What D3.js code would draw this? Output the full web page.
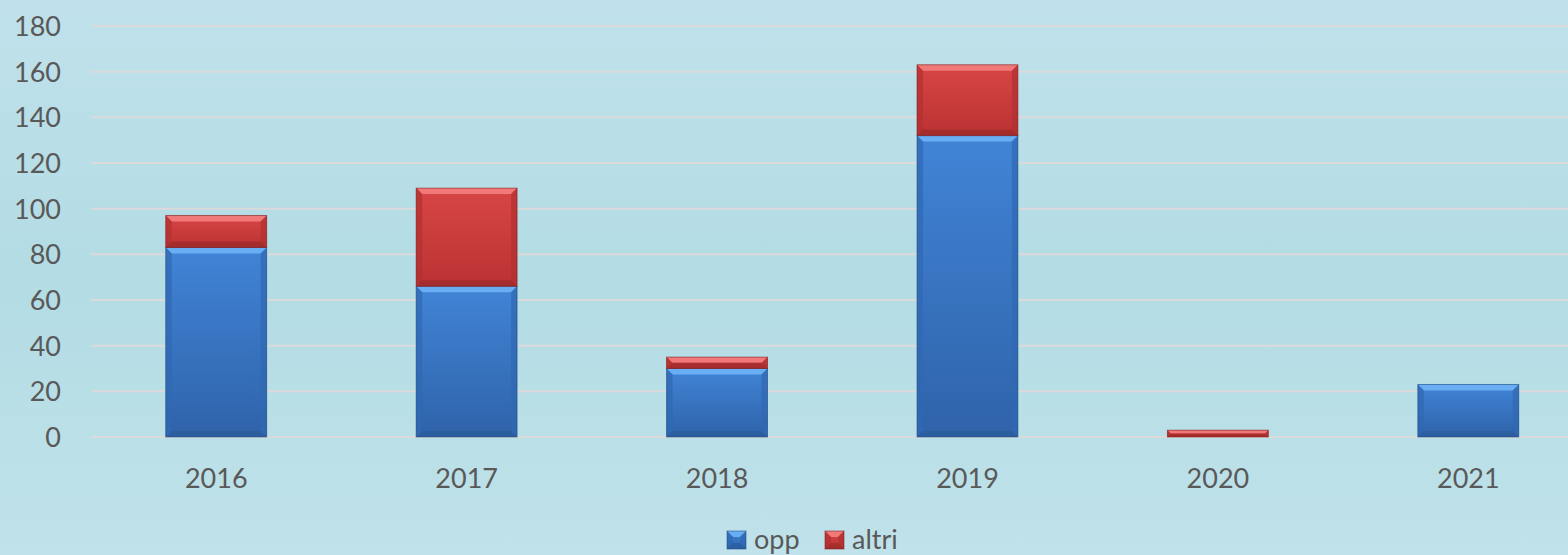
<!DOCTYPE html>
<html><head><meta charset="utf-8">
<script src="https://cdn.jsdelivr.net/npm/d3@7"></script>
<style>html,body{margin:0;padding:0;overflow:hidden;background:#b9dfe7}</style>
</head><body><svg id="c" width="1568" height="555"></svg>
<script>
const categories = ["2016","2017","2018","2019","2020","2021"];
const opp   = [83, 66, 30, 132, 0, 23];
const altri = [14, 43, 5, 31, 3, 0];
const seriesNames = ["opp","altri"];
const yTicks = [0,20,40,60,80,100,120,140,160,180];

const svg = d3.select("#c");
const W = 1568, H = 555;
const font = "Lato, 'Open Sans', sans-serif";
const defs = svg.append("defs");
const bg = defs.append("linearGradient").attr("id","bg").attr("x1",0).attr("y1",0).attr("x2",0).attr("y2",1);
bg.append("stop").attr("offset","0%").attr("stop-color","#c0e1eb");
bg.append("stop").attr("offset","50%").attr("stop-color","#b3dce4");
bg.append("stop").attr("offset","100%").attr("stop-color","#c0e2ea");
svg.append("rect").attr("width",W).attr("height",H).attr("fill","url(#bg)");

const colors = {
  opp:   {main:["#4184d6","#2f63aa"], top:"#6cb0f4", side:"#3068b2", bot:"#2a5a98", edge:"#1f4a80"},
  altri: {main:["#d84646","#bb3232"], top:"#f27c7c", side:"#b23030", bot:"#962828", edge:"#7a1f1f"}
};
Object.entries(colors).forEach(([k,c])=>{
  const g = defs.append("linearGradient").attr("id","g_"+k).attr("x1",0).attr("y1",0).attr("x2",0).attr("y2",1);
  g.append("stop").attr("offset","0%").attr("stop-color",c.main[0]);
  g.append("stop").attr("offset","100%").attr("stop-color",c.main[1]);
});

const x = d3.scaleBand().domain(categories).range([91, 1593.5]).paddingInner(0.597).paddingOuter(0.2985);
const y = d3.scaleLinear().domain([0,180]).range([437, 26]);

svg.append("g").selectAll("line").data(yTicks).join("line")
  .attr("x1",91).attr("x2",W).attr("y1",d=>y(d)).attr("y2",d=>y(d))
  .attr("stroke","#dadada").attr("stroke-width",2);

const yAxis = d3.axisLeft(y).tickValues(yTicks).tickSize(0).tickPadding(0);
const ya = svg.append("g").attr("transform","translate(61,0)").call(yAxis);
ya.select(".domain").remove();
ya.selectAll("text").attr("font-family",font).attr("font-size",27).attr("fill","#595959").attr("dy","0.35em");

const xAxis = d3.axisBottom(x).tickSize(0).tickPadding(0);
const xa = svg.append("g").attr("transform","translate(0,469)").call(xAxis);
xa.select(".domain").remove();
xa.selectAll("text").attr("font-family",font).attr("font-size",27).attr("fill","#595959").attr("dy","0.71em");

const rows = categories.map((c,i)=>({cat:c, opp:opp[i], altri:altri[i]}));
const stack = d3.stack().keys(seriesNames)(rows);

function bevelBar(g, x0, y0, w, h, c, key){
  if (h <= 0) return;
  const b = Math.min(6, h/2);
  g.append("rect").attr("x",x0).attr("y",y0).attr("width",w).attr("height",h).attr("fill","url(#g_"+key+")");
  const x1 = x0+w, y1 = y0+h;
  const poly = (pts, fill, op) => g.append("polygon").attr("points", pts.map(p=>p.join(",")).join(" ")).attr("fill",fill).attr("opacity",op);
  poly([[x0,y0],[x1,y0],[x1-b,y0+b],[x0+b,y0+b]], c.top, 0.95);
  poly([[x0,y0],[x0+b,y0+b],[x0+b,y1-b],[x0,y1]], c.side, 0.7);
  poly([[x1,y0],[x1,y1],[x1-b,y1-b],[x1-b,y0+b]], c.side, 0.7);
  poly([[x0,y1],[x0+b,y1-b],[x1-b,y1-b],[x1,y1]], c.bot, 0.6);
  g.append("rect").attr("x",x0).attr("y",y0).attr("width",w).attr("height",h)
    .attr("fill","none").attr("stroke",c.edge).attr("stroke-width",1).attr("opacity",0.55);
}

stack.forEach(s=>{
  const key = s.key;
  const g = svg.append("g");
  s.forEach(d=>{
    const x0 = x(d.data.cat), w = x.bandwidth();
    const yt = y(d[1]), yb = y(d[0]);
    bevelBar(g, x0, yt, w, yb-yt, colors[key], key);
  });
});

const legend = svg.append("g");
const lx = [727, 825];
seriesNames.forEach((k,i)=>{
  const lg = legend.append("g").attr("transform",`translate(${lx[i]},531)`);
  bevelBar(lg, 0, 0, 19, 18, colors[k], k);
  lg.append("text").attr("x",27).attr("y",9).attr("dy","0.35em")
    .attr("font-family",font).attr("font-size",27).attr("fill","#595959").text(k);
});
</script></body></html>
